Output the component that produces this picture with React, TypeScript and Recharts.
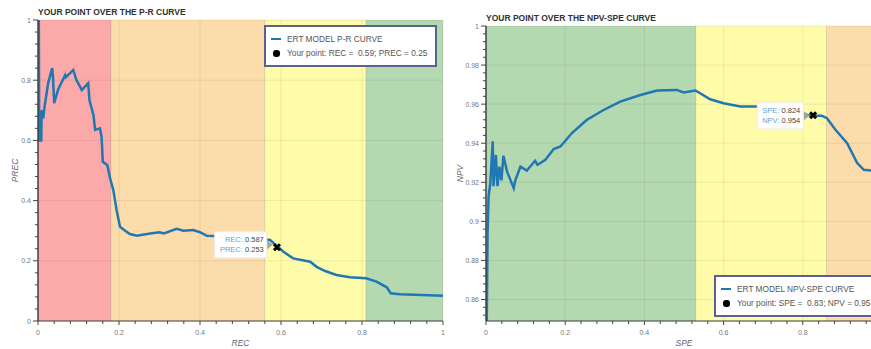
import {
  ComposedChart,
  Label,
  Legend,
  Line,
  ReferenceArea,
  ReferenceDot,
  ReferenceLine,
  Scatter,
  XAxis,
  YAxis,
} from "recharts";

// ---- P-R curve ----
const PR_REC = [
  0.002, 0.003, 0.008, 0.009, 0.013, 0.016, 0.025, 0.035, 0.037, 0.04, 0.05, 0.067,
  0.069, 0.087, 0.095, 0.104, 0.108, 0.124, 0.127, 0.137, 0.141, 0.153, 0.157, 0.16,
  0.171, 0.178, 0.186, 0.194, 0.2025, 0.215, 0.227, 0.244, 0.277, 0.3, 0.311, 0.342,
  0.359, 0.383, 0.4, 0.417, 0.437, 0.48, 0.52, 0.55, 0.573, 0.587,
  0.606, 0.63, 0.672, 0.688, 0.709, 0.737, 0.77, 0.81, 0.836, 0.861, 0.871, 0.894, 1.0,
];
const PR_PREC = [
  1.0, 0.6, 0.6, 0.7, 0.673, 0.71, 0.79, 0.84, 0.81, 0.724, 0.77, 0.817,
  0.81, 0.834, 0.8, 0.778, 0.767, 0.79, 0.734, 0.684, 0.635, 0.64, 0.612, 0.529,
  0.518, 0.474, 0.435, 0.369, 0.313, 0.3, 0.289, 0.283, 0.291, 0.295, 0.291, 0.306,
  0.3, 0.302, 0.295, 0.283, 0.282, 0.283, 0.278, 0.272, 0.269, 0.253,
  0.23, 0.208, 0.197, 0.18, 0.166, 0.153, 0.145, 0.142, 0.131, 0.112, 0.092, 0.089, 0.084,
];
const PR_POINT = { x: 0.59, y: 0.245 };
const PR_TIP = { x: 0.587, y: 0.253 };
const PR_BAND_EDGES = [0, 0.18, 0.56, 0.81, 1];
const PR_X_MAJOR = [0, 0.2, 0.4, 0.6, 0.8, 1];
const PR_Y_MAJOR = [0, 0.2, 0.4, 0.6, 0.8, 1];

// ---- NPV-SPE curve ----
const NS_SPE = [
  0.001, 0.004, 0.0066, 0.011, 0.017, 0.019, 0.025, 0.029, 0.034, 0.039, 0.044, 0.053,
  0.07, 0.074, 0.087, 0.103, 0.124, 0.13, 0.15, 0.171, 0.188, 0.217, 0.255, 0.297,
  0.339, 0.39, 0.432, 0.482, 0.499, 0.529, 0.566, 0.6, 0.642, 0.684, 0.72, 0.76, 0.8,
  0.824, 0.848, 0.861, 0.882, 0.912, 0.937, 0.954, 0.973, 0.99, 1.0,
];
const NS_NPV = [
  0.83, 0.894, 0.913, 0.9196, 0.941, 0.918, 0.934, 0.918, 0.928, 0.921, 0.9336, 0.9256,
  0.917, 0.921, 0.928, 0.926, 0.931, 0.929, 0.9315, 0.937, 0.9383, 0.9452, 0.952, 0.957,
  0.9613, 0.9647, 0.967, 0.9673, 0.966, 0.967, 0.9625, 0.9605, 0.9588, 0.9588, 0.958, 0.9565, 0.955,
  0.954, 0.954, 0.9528, 0.947, 0.94, 0.93, 0.9264, 0.926, 0.925, 0.922,
];
const NS_POINT = { x: 0.826, y: 0.9543 };
const NS_TIP = { x: 0.824, y: 0.954 };
const NS_BAND_EDGES = [0, 0.53, 0.86, 1];
const NS_X_MAJOR = [0, 0.2, 0.4, 0.6, 0.8, 1];
const NS_Y_MAJOR = [0.86, 0.88, 0.9, 0.92, 0.94, 0.96, 0.98, 1];

const FONT = '"Liberation Sans", Arial, Helvetica, sans-serif';
const BLUE = "#1f77b4";
const RED = "#fbaaa9";
const ORANGE = "#fcdcab";
const YELLOW = "#fefca9";
const GREEN = "#b4d8b0";
const PAGE_W = 871;

const fmt = (v: number) => String(+v.toFixed(2));

function withMinor(lo: number, hi: number, step: number) {
  const out: number[] = [];
  for (let i = Math.ceil(lo / step - 1e-9); i * step <= hi + 1e-9; i++) {
    out.push(+(i * step).toFixed(4));
  }
  return out;
}

const isIn = (list: number[], v: number) => list.some((m) => Math.abs(m - v) < 1e-6);

function XTick({ x, y, payload, major, pageLeft }: any) {
  const big = isIn(major, payload.value);
  // a label that would fall past the window edge is skipped (the reference crops it away)
  const fits = pageLeft + x + 3 <= PAGE_W;
  return (
    <g>
      <line x1={x} x2={x} y1={y} y2={y + (big ? 4 : 3)} stroke="#444" />
      {big && fits && (
        <text x={x} y={y + 14} textAnchor="middle" fontSize={7} fill="#777" fontFamily={FONT}>
          {fmt(payload.value)}
        </text>
      )}
    </g>
  );
}

function YTick({ x, y, payload, major }: any) {
  const big = isIn(major, payload.value);
  return (
    <g>
      <line x1={x - (big ? 5 : 3)} x2={x} y1={y} y2={y} stroke="#444" />
      {big && (
        <text x={x - 7} y={y + 2.5} textAnchor="end" fontSize={7} fill="#777" fontFamily={FONT}>
          {fmt(payload.value)}
        </text>
      )}
    </g>
  );
}

function XMark({ cx, cy }: any) {
  return (
    <path
      d={`M${cx - 3},${cy - 3}L${cx + 3},${cy + 3}M${cx + 3},${cy - 3}L${cx - 3},${cy + 3}`}
      stroke="#000"
      strokeWidth={3}
    />
  );
}

function TipBox({ cx, cy, names, values, w }: any) {
  return (
    <g fontFamily={FONT} fontSize={7.5}>
      <polygon points={`${cx - 9},${cy - 5} ${cx - 3},${cy} ${cx - 9},${cy + 5}`} fill="#a3a3a3" />
      <rect x={cx - 9 - w} y={cy - 13} width={w} height={26} fill="#fff" stroke="#eee" />
      {names.map((n: string, i: number) => (
        <text key={n} x={cx - 12} y={cy - 3 + i * 10} textAnchor="end">
          <tspan fill="#5fa2d8">{n}: </tspan>
          <tspan fill="#444">{values[i]}</tspan>
        </text>
      ))}
    </g>
  );
}

function LegendBox({ lineName, pointName }: any) {
  const row = { display: "flex", alignItems: "center", height: 14 } as const;
  return (
    <div
      style={{
        background: "#fff",
        border: "2px solid #5b6090",
        boxSizing: "border-box",
        padding: "5px 6px 5px 5px",
        fontFamily: FONT,
        fontSize: 8.3,
        color: "#555",
        whiteSpace: "pre",
        lineHeight: "14px",
      }}
    >
      <div style={row}>
        <span style={{ width: 10, height: 2.5, background: BLUE, marginRight: 6 }} />
        {lineName}
      </div>
      <div style={row}>
        <span style={{ width: 10, marginRight: 6, display: "flex", justifyContent: "center" }}>
          <span style={{ width: 7, height: 7, borderRadius: 3, background: "#000" }} />
        </span>
        {pointName}
      </div>
    </div>
  );
}

function CurveChart(props: any) {
  const {
    left, width, top, marginLeft, xs, ys, yDomain, xMajor, yMajor, yStep, edges, colors,
    point, tip, tipNames, tipW, xLabel, yLabel, yLabelGap, legend,
  } = props;
  const data = xs.map((x: number, i: number) => ({ x, y: ys[i] }));
  const xTicks = withMinor(0, 1, 0.04);
  const yTicks = withMinor(yDomain[0], yDomain[1], yStep);
  return (
    <div style={{ position: "absolute", left, top: 0 }}>
      <ComposedChart width={width} height={349} margin={{ top, right: 8, bottom: 27, left: marginLeft }}>
        {edges.slice(0, -1).map((e: number, i: number) => (
          <ReferenceArea
            key={e}
            x1={e}
            x2={edges[i + 1]}
            fill={colors[i]}
            fillOpacity={1}
            stroke="#000"
            strokeOpacity={0.08}
          />
        ))}
        {xMajor.slice(1, -1).map((v: number) => (
          <ReferenceLine key={"gx" + v} x={v} stroke="#000" strokeOpacity={0.07} />
        ))}
        {yMajor.filter((v: number) => v > yDomain[0] && v < yDomain[1]).map((v: number) => (
          <ReferenceLine key={"gy" + v} y={v} stroke="#000" strokeOpacity={0.07} />
        ))}
        <XAxis
          type="number"
          dataKey="x"
          domain={[0, 1]}
          ticks={xTicks}
          interval={0}
          height={1}
          tickSize={0}
          tickMargin={0}
          tickLine={false}
          axisLine={{ stroke: "#444" }}
          tick={(p: any) => <XTick {...p} major={xMajor} pageLeft={left} />}
          allowDataOverflow
        >
          <Label
            content={(p: any) => (
              <text
                x={p.viewBox.x + p.viewBox.width / 2}
                y={p.viewBox.y + 25}
                textAnchor="middle"
                fontSize={8.5}
                fontStyle="italic"
                fill="#666"
                fontFamily={FONT}
              >
                {xLabel}
              </text>
            )}
          />
        </XAxis>
        <YAxis
          type="number"
          dataKey="y"
          domain={yDomain}
          ticks={yTicks}
          interval={0}
          width={1}
          tickSize={0}
          tickMargin={0}
          tickLine={false}
          axisLine={{ stroke: "#444", strokeWidth: 1.5 }}
          tick={(p: any) => <YTick {...p} major={yMajor} />}
          allowDataOverflow
        >
          <Label
            content={(p: any) => {
              const lx = p.viewBox.x + p.viewBox.width - yLabelGap;
              const ly = p.viewBox.y + p.viewBox.height / 2;
              return (
                <text
                  x={lx}
                  y={ly}
                  transform={`rotate(-90 ${lx} ${ly})`}
                  textAnchor="middle"
                  fontSize={8.5}
                  fontStyle="italic"
                  fill="#666"
                  fontFamily={FONT}
                >
                  {yLabel}
                </text>
              );
            }}
          />
        </YAxis>
        <Line
          data={data}
          dataKey="y"
          type="linear"
          stroke={BLUE}
          strokeWidth={2.5}
          dot={false}
          activeDot={false}
          isAnimationActive={false}
        />
        <Scatter
          data={[point]}
          dataKey="y"
          shape={(p: any) => <XMark cx={p.cx} cy={p.cy} />}
          isAnimationActive={false}
        />
        <ReferenceDot
          x={tip.x}
          y={tip.y}
          ifOverflow="visible"
          shape={(p: any) => (
            <TipBox
              cx={p.cx}
              cy={p.cy}
              names={tipNames}
              values={[tip.x.toFixed(3), tip.y.toFixed(3)]}
              w={tipW}
            />
          )}
        />
        <Legend
          layout="vertical"
          align="center"
          verticalAlign="middle"
          wrapperStyle={{ left: legend.left, top: legend.top, width: legend.width }}
          content={() => <LegendBox lineName={legend.lineName} pointName={legend.pointName} />}
        />
      </ComposedChart>
    </div>
  );
}

const titleStyle = {
  position: "absolute",
  fontFamily: FONT,
  fontSize: 8.5,
  fontWeight: "bold",
  color: "#333",
  lineHeight: "10px",
  whiteSpace: "nowrap",
} as const;

export default function App() {
  return (
    <div
      style={{
        position: "fixed",
        left: 0,
        top: 0,
        width: PAGE_W,
        height: 349,
        overflow: "hidden",
        background: "#fff",
      }}
    >
      <CurveChart
        left={0}
        width={451}
        top={20}
        marginLeft={37}
        xs={PR_REC}
        ys={PR_PREC}
        yDomain={[0, 1]}
        xMajor={PR_X_MAJOR}
        yMajor={PR_Y_MAJOR}
        yStep={0.04}
        edges={PR_BAND_EDGES}
        colors={[RED, ORANGE, YELLOW, GREEN]}
        point={PR_POINT}
        tip={PR_TIP}
        tipNames={["REC", "PREC"]}
        tipW={52}
        xLabel="REC"
        yLabel="PREC"
        yLabelGap={20}
        legend={{
          left: 264,
          top: 25,
          width: 173,
          lineName: "ERT MODEL P-R CURVE",
          pointName: "Your point: REC =  0.59; PREC = 0.25",
        }}
      />
      <CurveChart
        left={440}
        width={450}
        top={26}
        marginLeft={45}
        xs={NS_SPE}
        ys={NS_NPV}
        yDomain={[0.849, 1]}
        xMajor={NS_X_MAJOR}
        yMajor={NS_Y_MAJOR}
        yStep={0.004}
        edges={NS_BAND_EDGES}
        colors={[GREEN, YELLOW, ORANGE]}
        point={NS_POINT}
        tip={NS_TIP}
        tipNames={["SPE", "NPV"]}
        tipW={46}
        xLabel="SPE"
        yLabel="NPV"
        yLabelGap={23}
        legend={{
          left: 274,
          top: 275,
          width: 166,
          lineName: "ERT MODEL NPV-SPE CURVE",
          pointName: "Your point: SPE =  0.83; NPV = 0.95",
        }}
      />
      <div style={{ ...titleStyle, left: 38, top: 7 }}>YOUR POINT OVER THE P-R CURVE</div>
      <div style={{ ...titleStyle, left: 486, top: 13 }}>YOUR POINT OVER THE NPV-SPE CURVE</div>
    </div>
  );
}
